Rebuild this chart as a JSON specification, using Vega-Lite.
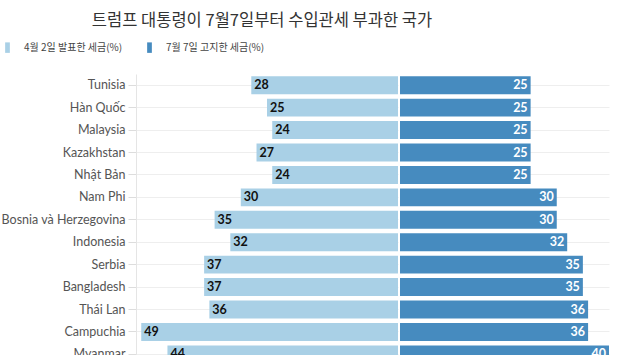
{
  "$schema": "https://vega.github.io/schema/vega-lite/v6.json",
  "padding": {"left": 0, "top": 12, "right": 5, "bottom": 5},
  "background": "white",
  "title": {"text": "트럼프 대통령이 7월7일부터 수입관세 부과한 국가", "font": "Noto Sans CJK KR", "fontSize": 16.5, "fontWeight": "normal", "color": "#333", "anchor": "start", "frame": "bounds", "dx": 91, "offset": 13},
  "data": {"values": [
    {"country": "Tunisia", "apr": 28, "jul": 25},
    {"country": "Hàn Quốc", "apr": 25, "jul": 25},
    {"country": "Malaysia", "apr": 24, "jul": 25},
    {"country": "Kazakhstan", "apr": 27, "jul": 25},
    {"country": "Nhật Bản", "apr": 24, "jul": 25},
    {"country": "Nam Phi", "apr": 30, "jul": 30},
    {"country": "Bosnia và Herzegovina", "apr": 35, "jul": 30},
    {"country": "Indonesia", "apr": 32, "jul": 32},
    {"country": "Serbia", "apr": 37, "jul": 35},
    {"country": "Bangladesh", "apr": 37, "jul": 35},
    {"country": "Thái Lan", "apr": 36, "jul": 36},
    {"country": "Campuchia", "apr": 49, "jul": 36},
    {"country": "Myanmar", "apr": 44, "jul": 40},
    {"country": "Lào", "apr": 48, "jul": 40}
  ]},
  "spacing": 2,
  "config": {
    "view": {"stroke": null},
    "font": "Lato",
    "legend": {"orient": "none", "legendX": -134, "legendY": -32, "direction": "horizontal", "labelFont": "Noto Sans CJK KR", "labelFontSize": 10, "labelColor": "#444", "labelOffset": 11, "title": null, "symbolType": "M-0.45,-1H0.45V1H-0.45Z", "symbolSize": 110, "symbolStrokeWidth": 0, "columnPadding": 21}
  },
  "hconcat": [
    {
      "width": 262,
      "height": 314,
      "encoding": {
        "y": {"field": "country", "type": "nominal", "sort": null, "title": null,
          "scale": {"paddingInner": 0.2, "paddingOuter": 0.1},
          "axis": {"labelFont": "Lato", "labelFontSize": 12.5, "labelColor": "#555", "tickColor": "#ddd", "tickSize": 8, "labelPadding": 3, "domainColor": "#e5e5e5", "grid": true, "gridColor": "#eee"}}
      },
      "layer": [
        {
          "mark": {"type": "bar", "color": "#a9d0e6"},
          "encoding": {
            "x": {"field": "apr", "type": "quantitative", "scale": {"domain": [0, 50], "reverse": true}, "axis": null},
            "color": {"datum": "4월 2일 발표한 세금(%)", "type": "nominal", "scale": {"domain": ["4월 2일 발표한 세금(%)", "7월 7일 고지한 세금(%)"], "range": ["#a9d0e6", "#468bbf"]}}
          }
        },
        {
          "mark": {"type": "text", "align": "left", "dx": 3, "fontWeight": "bold", "fontSize": 12.5, "color": "#111", "font": "Lato"},
          "encoding": {
            "x": {"field": "apr", "type": "quantitative"},
            "text": {"field": "apr", "type": "quantitative"}
          }
        }
      ]
    },
    {
      "width": 209,
      "height": 314,
      "encoding": {
        "y": {"field": "country", "type": "nominal", "sort": null, "title": null,
          "scale": {"paddingInner": 0.2, "paddingOuter": 0.1},
          "axis": {"labels": false, "ticks": false, "domain": false, "grid": true, "gridColor": "#eee"}}
      },
      "layer": [
        {
          "mark": {"type": "bar", "color": "#468bbf"},
          "encoding": {
            "x": {"field": "jul", "type": "quantitative", "scale": {"domain": [0, 40]}, "axis": null},
            "color": {"datum": "7월 7일 고지한 세금(%)", "type": "nominal"}
          }
        },
        {
          "mark": {"type": "text", "align": "right", "dx": -3, "fontWeight": "bold", "fontSize": 12.5, "color": "white", "font": "Lato"},
          "encoding": {
            "x": {"field": "jul", "type": "quantitative"},
            "text": {"field": "jul", "type": "quantitative"}
          }
        }
      ]
    }
  ]
}
